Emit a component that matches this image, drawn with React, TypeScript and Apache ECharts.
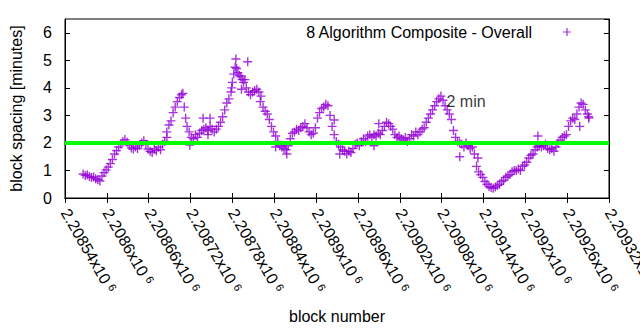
import React, { useEffect, useRef } from "react";
import * as echarts from "echarts";

const FONT = "'Liberation Sans', Arial, sans-serif";
const X_MIN = 2208540;
const X_MAX = 2209320;
const X_STEP = 60;
const Y_MIN = 0;
const Y_MAX = 6.5;
const Y_STEP = 1;
const TARGET_MINUTES = 2;
const SERIES_NAME = "8 Algorithm Composite - Overall";
const TARGET_LABEL = "2 min";
const TARGET_LABEL_AT = [2209087, 3.52];
const X_TITLE = "block number";
const Y_TITLE = "block spacing [minutes]";

// block numbers are stored as offsets from this first tick
const BLOCK_BASE = 2208540;

const blockOffsets = [
  26, 29, 32, 35, 38, 41, 44, 47, 50, 53, 56, 59, 62, 65, 68, 71, 74, 77, 80, 83,
  86, 89, 92, 95, 98, 101, 104, 107, 110, 113, 116, 119, 122, 125, 128, 131, 134, 137, 140, 143,
  146, 149, 152, 155, 158, 161, 164, 167, 169, 171, 173, 175, 178, 181, 184, 187, 190, 193, 196, 199,
  202, 205, 208, 211, 214, 217, 220, 223, 226, 229, 232, 235, 238, 240, 242, 244, 246, 248, 250, 252,
  254, 256, 258, 260, 263, 266, 269, 272, 275, 278, 281, 284, 287, 290, 293, 296, 299, 302, 305, 308,
  311, 314, 317, 320, 323, 326, 329, 332, 335, 338, 341, 344, 347, 350, 353, 356, 359, 362, 365, 368,
  371, 374, 377, 380, 383, 386, 389, 392, 395, 398, 401, 404, 407, 410, 413, 416, 419, 422, 425, 428,
  431, 434, 437, 440, 443, 446, 449, 452, 455, 458, 461, 464, 467, 470, 473, 476, 479, 482, 485, 488,
  491, 494, 497, 500, 503, 506, 509, 512, 515, 518, 521, 524, 527, 530, 533, 536, 539, 542, 545, 548,
  551, 554, 557, 560, 563, 566, 569, 572, 575, 578, 581, 584, 587, 590, 593, 596, 599, 602, 605, 608,
  611, 614, 617, 620, 623, 626, 629, 632, 635, 638, 641, 644, 647, 650, 653, 656, 659, 662, 665, 668,
  671, 674, 677, 680, 683, 686, 689, 692, 695, 698, 701, 704, 707, 710, 713, 716, 719, 722, 725, 728,
  731, 734, 737, 740, 743, 746, 749, 751,
];

const spacingMinutes = [
  0.87, 0.82, 0.84, 0.78, 0.74, 0.76, 0.7, 0.66, 0.62, 0.8, 0.92, 1.02, 1.12, 1.25, 1.4, 1.6, 1.72, 1.85, 1.95, 2.05,
  2.12, 2.02, 1.92, 1.82, 1.78, 1.85, 1.8, 1.92, 2.0, 2.08, 1.95, 1.78, 1.7, 1.65, 1.78, 1.72, 1.85, 1.75, 1.95, 2.05,
  2.4, 2.65, 2.8, 3.1, 3.3, 3.5, 3.65, 3.75, 3.8, 3.3, 2.9, 2.6, 2.4, 2.2, 2.15, 2.3, 2.2, 2.35, 2.45, 2.5,
  2.55, 2.45, 2.6, 2.5, 2.4, 2.5, 2.6, 2.75, 2.95, 3.2, 3.45, 3.6, 3.85, 4.2, 4.5, 4.75, 4.7, 4.55, 4.45, 4.4,
  4.3, 4.2, 4.3, 4.0, 3.85, 3.75, 3.85, 3.9, 3.95, 3.85, 3.7, 3.3, 3.15, 3.05, 2.85, 2.6, 2.4, 2.25, 2.05, 1.9,
  1.85, 1.8, 1.75, 1.9, 2.15, 2.35, 2.4, 2.5, 2.45, 2.55, 2.6, 2.7, 2.55, 2.4, 2.3, 2.35, 2.55, 2.9, 3.1, 3.25,
  3.3, 3.4, 3.35, 3.0, 2.6, 2.3, 2.05, 1.95, 1.85, 1.75, 1.7, 1.6, 1.7, 1.65, 1.8, 1.95, 2.0, 1.9, 2.05, 2.15,
  2.05, 2.25, 2.3, 2.2, 2.3, 2.25, 2.35, 2.3, 2.45, 2.6, 2.75, 2.7, 2.6, 2.5, 2.3, 2.2, 2.25, 2.15, 2.1, 2.2,
  2.05, 2.15, 2.3, 2.25, 2.4, 2.3, 2.4, 2.5, 2.55, 2.75, 2.9, 3.05, 3.2, 3.35, 3.5, 3.6, 3.7, 3.55, 3.35, 3.2,
  3.05, 2.85, 2.45, 2.2, 2.05, 2.0, 1.95, 1.85, 2.0, 1.9, 1.8, 1.85, 1.6, 1.15, 0.95, 0.85, 0.75, 0.6, 0.5, 0.42,
  0.38, 0.35, 0.4, 0.45, 0.5, 0.6, 0.65, 0.75, 0.8, 0.85, 0.95, 1.0, 1.0, 1.05, 1.0, 1.15, 1.2, 1.3, 1.45, 1.55,
  1.6, 1.75, 1.85, 1.9, 1.85, 1.9, 1.95, 1.8, 1.75, 1.8, 1.7, 1.85, 2.0, 2.1, 2.2, 2.25, 2.3, 2.6, 2.8, 2.9,
  2.85, 3.05, 3.3, 3.45, 3.4, 3.2, 3.05, 2.95,
];

// scattered points lying away from the main band
const outlierOffsets = [146, 179, 198, 208, 205, 239, 245, 253, 262, 280, 302, 318, 386, 394, 450, 443, 566, 592, 678, 738, 751];
const outlierMinutes = [2.2, 1.92, 2.9, 2.9, 2.3, 4.0, 5.05, 3.95, 4.95, 3.5, 1.85, 1.6, 2.83, 1.6, 2.7, 1.9, 1.5, 1.45, 2.25, 2.6, 2.9];

const PLUS = "path://M3.8,0h1.4v3.8h3.8v1.4h-3.8v3.8h-1.4v-3.8h-3.8v-1.4h3.8z";

function fmtTick(v: number): string {
  return String(parseFloat((v / 1e6).toFixed(5)));
}

export default function App() {
  const ref = useRef<HTMLDivElement>(null);
  useEffect(() => {
    if (!ref.current) return;
    const chart = echarts.init(ref.current, null, { renderer: "svg" });
    const points = blockOffsets.map((o, i) => [BLOCK_BASE + o, spacingMinutes[i]]);
    outlierOffsets.forEach((o, i) => points.push([BLOCK_BASE + o, outlierMinutes[i]]));
    const textBase = { fontFamily: FONT, fontSize: 16, color: "#000" };
    chart.setOption({
      animation: false,
      backgroundColor: "#fff",
      textStyle: { fontFamily: FONT },
      grid: {
        left: 65,
        right: 31,
        top: 19,
        bottom: 132,
        outerBoundsMode: "none",
        containLabel: false,
        show: true,
        borderColor: "#000",
        borderWidth: 1,
        backgroundColor: "transparent",
      },
      legend: {
        data: [SERIES_NAME],
        right: 69,
        top: 24,
        padding: 0,
        align: "right",
        icon: PLUS,
        itemWidth: 8,
        itemHeight: 8,
        textStyle: { ...textBase, padding: [0, 26, 0, 0] },
      },
      xAxis: [
        {
          type: "value",
          min: X_MIN,
          max: X_MAX,
          interval: X_STEP,
          position: "bottom",
          name: X_TITLE,
          nameLocation: "middle",
          nameGap: 110,
          nameTextStyle: textBase,
          axisLine: { show: true, lineStyle: { color: "#000", width: 1 } },
          axisTick: { show: true, inside: true, length: 5, lineStyle: { color: "#000" } },
          splitLine: { show: false },
          axisLabel: {
            rotate: -60,
            margin: 12,
            interval: 0,
            showMinLabel: true,
            showMaxLabel: true,
            hideOverlap: false,
            formatter: (v: number) => `{m|${fmtTick(v)}x10}{e|6}`,
            rich: {
              m: { ...textBase },
              e: { ...textBase, fontSize: 11, verticalAlign: "top", padding: [0, 0, 0, 4] },
            },
          },
        },
        {
          type: "value",
          min: X_MIN,
          max: X_MAX,
          interval: X_STEP,
          position: "top",
          axisLine: { show: true, lineStyle: { color: "#000", width: 1 } },
          axisTick: { show: true, inside: true, length: 5, lineStyle: { color: "#000" } },
          axisLabel: { show: false },
          splitLine: { show: false },
        },
      ],
      yAxis: [
        {
          type: "value",
          min: Y_MIN,
          max: Y_MAX,
          interval: Y_STEP,
          position: "left",
          name: Y_TITLE,
          nameLocation: "middle",
          nameGap: 41,
          nameTextStyle: textBase,
          axisLine: { show: true, lineStyle: { color: "#000", width: 1 } },
          axisTick: { show: true, inside: true, length: 5, lineStyle: { color: "#000" } },
          splitLine: { show: false },
          axisLabel: { ...textBase, margin: 13, showMaxLabel: false },
        },
        {
          type: "value",
          min: Y_MIN,
          max: Y_MAX,
          interval: Y_STEP,
          position: "right",
          axisLine: { show: true, lineStyle: { color: "#000", width: 1 } },
          axisTick: { show: true, inside: true, length: 5, lineStyle: { color: "#000" } },
          axisLabel: { show: false },
          splitLine: { show: false },
        },
      ],
      series: [
        {
          name: SERIES_NAME,
          type: "scatter",
          xAxisIndex: 0,
          yAxisIndex: 0,
          symbol: PLUS,
          symbolSize: 9,
          itemStyle: { color: "#9400d3" },
          data: points,
          z: 2,
        },
        {
          name: "target",
          type: "line",
          xAxisIndex: 0,
          yAxisIndex: 0,
          symbol: "none",
          lineStyle: { color: "#00ff00", width: 4 },
          data: [
            [X_MIN, TARGET_MINUTES],
            [X_MAX, TARGET_MINUTES],
          ],
          z: 3,
        },
        {
          name: "label",
          type: "scatter",
          xAxisIndex: 0,
          yAxisIndex: 0,
          symbolSize: 0,
          data: [TARGET_LABEL_AT],
          label: {
            show: true,
            position: "right",
            distance: 0,
            formatter: TARGET_LABEL,
            ...textBase,
          },
          z: 4,
        },
      ],
    });
    return () => chart.dispose();
  }, []);
  return <div ref={ref} style={{ width: 640, height: 330, position: "absolute", left: 0, top: 0 }} />;
}
